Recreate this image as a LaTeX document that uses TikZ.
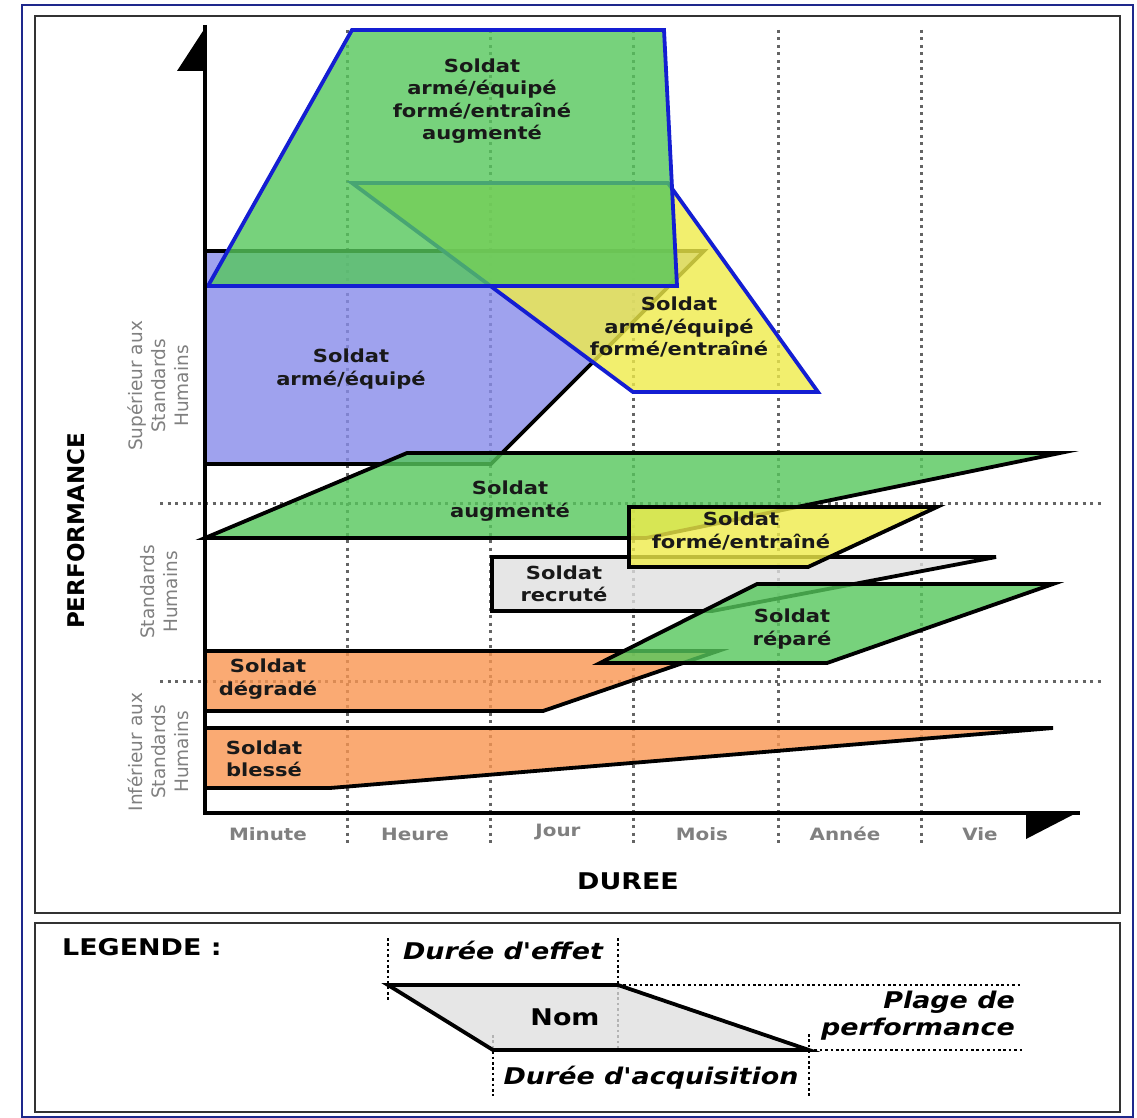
\documentclass[tikz,border=0pt]{standalone}
\usepackage{fontspec}
\setmainfont{DejaVu Sans}[FakeStretch=1.17]
\newfontfamily\rotfont{DejaVu Sans}
\newfontfamily\legfont{DejaVu Sans}[FakeStretch=1.17, Ligatures=TeXOff]
\definecolor{cgreen}{RGB}{86,199,92}
\definecolor{cviolet}{RGB}{136,139,234}
\definecolor{cyellow}{RGB}{239,236,74}
\definecolor{corange}{RGB}{249,149,80}
\definecolor{cgrayf}{RGB}{224,224,224}
\definecolor{cblue}{RGB}{20,30,210}
\definecolor{cframe}{RGB}{30,40,140}
\definecolor{clabel}{RGB}{128,128,128}
\definecolor{cgrid}{RGB}{100,100,100}
\definecolor{ctext}{RGB}{25,25,25}
\begin{document}
\begin{tikzpicture}[x=1pt,y=-1pt,
  zone/.style={line width=3.8pt, line join=miter, fill opacity=0.8},
  blk/.style={zone, draw=black},
  blu/.style={zone, draw=cblue},
  lab/.style={font=\fontsize{18}{22.3}\selectfont\bfseries, text=ctext, align=center, inner sep=0pt},
  gdot/.style={draw=cgrid, line width=3pt, dash pattern=on 3pt off 4.5pt},
  ldot/.style={draw=black, line width=2.6pt, dash pattern=on 2.6pt off 2.8pt},
  tk/.style={font=\fontsize{17}{20}\selectfont\bfseries, text=clabel, inner sep=0pt},
  sidelab/.style={rotate=90, font=\rotfont\fontsize{18.5}{23}\selectfont, text=clabel, align=center, inner sep=0pt},
  ttl/.style={font=\fontsize{23}{26}\selectfont\bfseries, text=black, inner sep=0pt},
  leg/.style={font=\legfont\fontsize{23}{27}\selectfont\bfseries\itshape, text=black, inner sep=0pt},
]
\useasboundingbox (0,0) rectangle (1137,1118);
\fill[white] (0,0) rectangle (1137,1118);
% frames
\draw[cframe, line width=2.8pt] (22,5) rectangle (1133,1117);
\draw[black!80, line width=2.4pt] (35,16) rectangle (1120,913);
\draw[black!80, line width=2.4pt] (35,923) rectangle (1120,1112);

% grid
\foreach \x in {347,490,633,778,921} \draw[gdot] (\x,30) -- (\x,843);
\foreach \y in {503,681} \draw[gdot] (160,\y) -- (1105,\y);

% shapes
\path[blk, fill=cviolet] (205,251) -- (704,251) -- (491,464) -- (205,464) -- cycle;
\path[blu, fill=cyellow] (352,183) -- (668,183) -- (818,392) -- (633,392) -- cycle;
\path[blu, fill=cgreen] (208,286) -- (352,30) -- (664,30) -- (677,286) -- cycle;
\path[blk, fill=corange] (205,728) -- (1053,728) -- (330,788) -- (205,788) -- cycle;
\path[blk, fill=corange] (205,651) -- (718,651) -- (543,711) -- (205,711) -- cycle;
\path[blk, fill=cgrayf] (492,557) -- (996,557) -- (712,611) -- (492,611) -- cycle;
\path[blk, fill=cgreen] (205,538) -- (407,453) -- (1060,453) -- (646,538) -- cycle;
\path[blk, fill=cyellow] (629,507) -- (937,507) -- (808,567) -- (629,567) -- cycle;
\path[blk, fill=cgreen] (600,663) -- (757,584) -- (1053,584) -- (827,663) -- cycle;

% axes
\draw[black, line width=3.8pt] (205,814) -- (205,25);
\draw[black, line width=3.8pt] (203.1,813) -- (1080,813);
\fill[black] (206.9,25) -- (206.9,71) -- (177,71) -- cycle;
\fill[black] (1080,811.1) -- (1026,811.1) -- (1026,839) -- cycle;

% shape labels
\node[lab] (tbig) at (482,101) {Soldat\\armé/équipé\\formé/entraîné\\augmenté};
\node[lab] (tyel) at (679,327) {Soldat\\armé/équipé\\formé/entraîné};
\node[lab] (tvio) at (351,369) {Soldat\\armé/équipé};
\node[lab] (taug) at (510,501) {Soldat\\augmenté};
\node[lab] (tfor) at (741,531) {Soldat\\formé/entraîné};
\node[lab] (trec) at (564,584) {Soldat\\recruté};
\node[lab] (trep) at (792,629) {Soldat\\réparé};
\node[lab] (tdeg) at (268,679) {Soldat\\dégradé};
\node[lab] (tble) at (264,759) {Soldat\\blessé};

% axis ticks
\node[tk] (kmin) at (268,834) {Minute};
\node[tk] (khr) at (415,834) {Heure};
\node[tk] (kday) at (558,832) {Jour};
\node[tk] (kmon) at (702,834) {Mois};
\node[tk] (kyr) at (845,834) {Année};
\node[tk] (klife) at (980,834) {Vie};
\node[ttl] (tdur) at (628,881) {DUREE};
\node[ttl, rotate=90, font=\rotfont\fontsize{23}{26}\selectfont\bfseries] (tperf) at (76,531) {PERFORMANCE};
\node[sidelab] (ssup) at (158,386) {Supérieur aux\\Standards\\Humains};
\node[sidelab] (sstd) at (159,592) {Standards\\Humains};
\node[sidelab] (sinf) at (158,752) {Inférieur aux\\Standards\\Humains};

% legend
\node[ttl, anchor=west] (tleg) at (62,947) {LEGENDE :};
\draw[ldot] (388,938) -- (388,1000);
\draw[ldot] (618,938) -- (618,1050);
\draw[ldot] (493,1035) -- (493,1096);
\draw[ldot] (809,1034) -- (809,1096);
\draw[ldot] (618,985) -- (1022,985);
\draw[ldot] (809,1050) -- (1022,1050);
\path[blk, fill=cgrayf] (388,985) -- (618,985) -- (809,1050) -- (493,1050) -- cycle;
\node[ttl] (tnom) at (565,1017) {Nom};
\node[leg] (teff) at (503,950) {Durée d'effet};
\node[leg] (tacq) at (651,1078) {Durée d'acquisition};
\node[leg, align=right, anchor=east] (tplage) at (1015,1016) {Plage de\\performance};
\end{tikzpicture}
\end{document}
